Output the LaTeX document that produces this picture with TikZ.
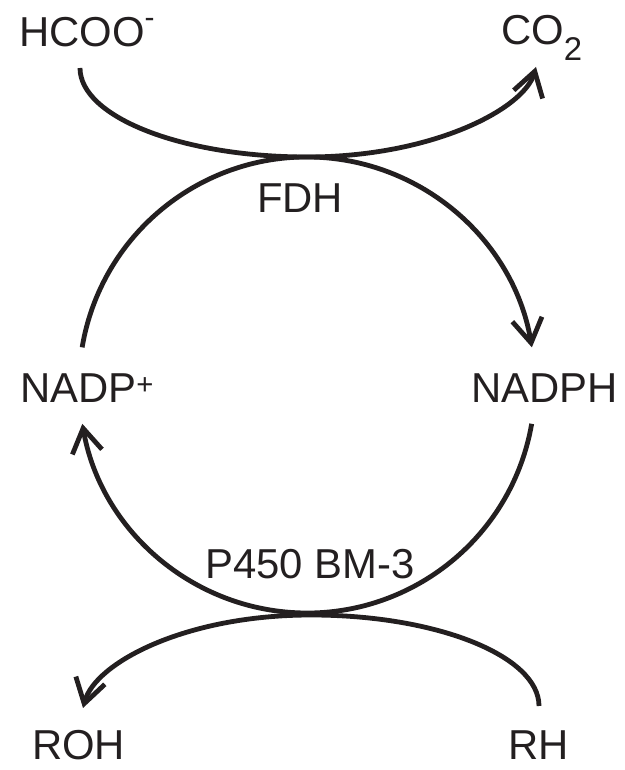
\documentclass[tikz,border=0pt]{standalone}
\usepackage{fontspec}
\setmainfont{Liberation Sans}
\usetikzlibrary{arrows.meta}
\definecolor{ink}{RGB}{35,31,32}
\begin{document}
\begin{tikzpicture}[x=1bp,y=1bp,
  lbl/.style={inner sep=0pt, anchor=base west, text=ink, font=\fontsize{42}{50}\selectfont},
  cyc/.style={line width=4.8bp, draw=ink},
  tipped/.style={cyc, -{Straight Barb[length=24bp,width=30bp]}}]
\useasboundingbox (0,0) rectangle (625,770);
% labels
\node[lbl] (hcoo) at (19,723) {HCOO\raisebox{19bp}{\fontsize{30}{30}\selectfont -}};
\node[lbl] (co2) at (501,725) {CO\raisebox{-16bp}{\fontsize{33}{33}\selectfont 2}};
\node[lbl] (fdh) at (257,557) {FDH};
\node[lbl] (nadp) at (20,367) {NADP\textsuperscript{+}};
\node[lbl] (nadph) at (471,367) {NADPH};
\node[lbl] (p450) at (205,191) {P450 BM-3};
\node[lbl] (roh) at (32,10) {ROH};
\node[lbl] (rh) at (508,10) {RH};
% curve end points
\coordinate (cA) at (307,385);
\coordinate (tS) at (80,702);
\coordinate (tM) at (307,613);
\coordinate (tE) at (536,703);
\coordinate (bS) at (539,64);
\coordinate (bM) at (311,155);
\coordinate (bE) at (83,62);
\coordinate (uS) at ([shift={(170.5:228)}]cA);
\coordinate (lS) at ([shift={(-9.8:228)}]cA);
% top curve HCOO- -> CO2
\draw[tipped] (tS) .. controls (80,653) and (182,613) .. (tM)
  .. controls (432,613) and (524,661) .. (tE);
% cycle: upper arc NADP+ -> NADPH
\draw[tipped] (uS) arc[start angle=170.5, end angle=9.5, radius=228];
% cycle: lower arc NADPH -> NADP+
\draw[tipped] (lS) arc[start angle=-9.8, end angle=-170.2, radius=228];
% bottom curve RH -> ROH
\draw[tipped] (bS) .. controls (539,114) and (437,155) .. (bM)
  .. controls (185,155) and (95,107) .. (bE);
\end{tikzpicture}
\end{document}
